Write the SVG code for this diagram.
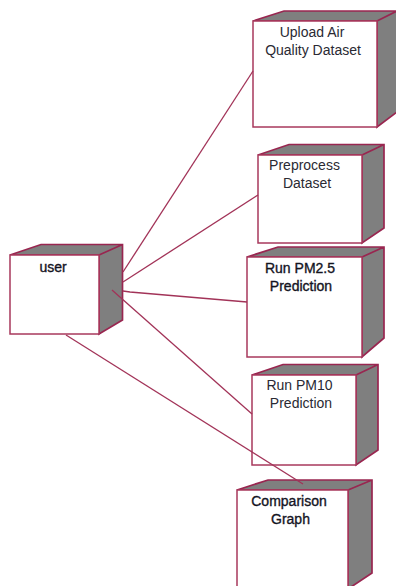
<svg xmlns="http://www.w3.org/2000/svg" width="396" height="586" viewBox="0 0 396 586">
<style>
.f{fill:#fff;stroke:#a8395c;stroke-width:1.5}
.s{fill:#7f7f7f;stroke:#992650;stroke-width:1.7;stroke-linejoin:miter}
.c{fill:none;stroke:#a23358;stroke-width:1.3}
text{font-family:"Liberation Sans",Arial,sans-serif;font-size:14px;fill:#2a2a33;text-anchor:middle}
.b{fill:#14141f;stroke:#14141f;stroke-width:.35}
</style>
<rect width="396" height="586" fill="#fff"/>
<g id="node-user">
<path class="s" d="M10 255L41 244.500H122.500V320L99 334V255ZM99 255L122.500 244.500"/>
<rect class="f" x="10" y="255" width="89" height="79"/>
<text x="53" y="272" class="b">user</text>
</g>
<g id="node-upload">
<path class="s" d="M253 21L284 11H397V112L377 127V21ZM377 21L397 11"/>
<rect class="f" x="253" y="21" width="124" height="106"/>
<text x="312" y="37">Upload Air</text>
<text x="313" y="55">Quality Dataset</text>
</g>
<g id="node-preprocess">
<path class="s" d="M258 155L289 144.500H384V228L362 243V155ZM362 155L384 144.500"/>
<rect class="f" x="258" y="155" width="104" height="88"/>
<text x="304.500" y="170">Preprocess</text>
<text x="307" y="188">Dataset</text>
</g>
<g id="node-pm25">
<path class="s" d="M247 257L278 247H384V338L362 357V257ZM362 257L384 247"/>
<rect class="f" x="247" y="257" width="115" height="100"/>
<text x="300" y="273" class="b">Run PM2.5</text>
<text x="301" y="291" class="b">Prediction</text>
</g>
<g id="node-pm10">
<path class="s" d="M252 375L283 364.500H378V450L356 465V375ZM356 375L378 364.500"/>
<rect class="f" x="252" y="375" width="104" height="90"/>
<text x="299.500" y="390">Run PM10</text>
<text x="301" y="408">Prediction</text>
</g>
<g id="node-comparison">
<path class="s" d="M237 490L268 480H372V573L348 589V490ZM348 490L372 480"/>
<path class="f" d="M237 588V490H348V588"/>
<text x="289" y="506" class="b">Comparison</text>
<text x="290.500" y="524" class="b">Graph</text>
</g>
<g id="connectors">
<path class="c" d="M123 272L253 71"/>
<path class="c" d="M123 282L258 195"/>
<path class="c" d="M123 291L130 292L247 302"/>
<path class="c" d="M112 290L252 414"/>
<path class="c" d="M66 335L303 484"/>
</g>
</svg>
